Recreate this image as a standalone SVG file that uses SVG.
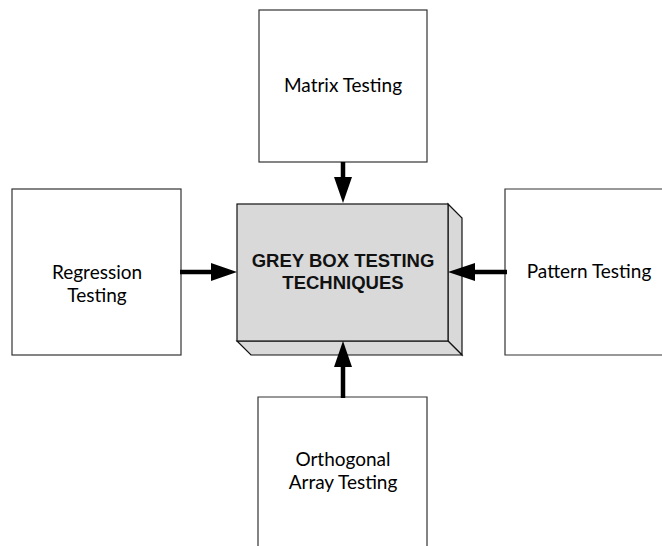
<svg xmlns="http://www.w3.org/2000/svg" width="662" height="546" viewBox="0 0 662 546">
<defs>
<style>
.box{fill:#ffffff;stroke:#333333;stroke-width:1.2}
.lbl{font-family:"Lato","DejaVu Sans",sans-serif;font-size:19px;fill:#000000;text-anchor:middle}
.ttl{font-family:"Liberation Sans",Arial,sans-serif;font-size:18.5px;font-weight:bold;fill:#111111;text-anchor:middle}
.face{fill:#d9d9d9;stroke:#111111;stroke-width:1.2;stroke-linejoin:miter}
.conn{stroke:#000000;stroke-width:4.5;fill:none}
.head{fill:#000000}
</style>
</defs>
<rect width="662" height="546" fill="#ffffff"/>
<g id="matrix">
<rect class="box" x="259" y="10" width="168" height="152"/>
<text class="lbl" x="343" y="92">Matrix Testing</text>
</g>
<g id="regression">
<rect class="box" x="12" y="189" width="169" height="166"/>
<text class="lbl" x="97" y="279">Regression</text>
<text class="lbl" x="97" y="302">Testing</text>
</g>
<g id="pattern">
<path class="box" d="M664,189 L505,189 L505,355 L664,355"/>
<text class="lbl" x="589" y="278">Pattern Testing</text>
</g>
<g id="orthogonal">
<path class="box" d="M258,548 L258,397 L427,397 L427,548"/>
<text class="lbl" x="343" y="466">Orthogonal</text>
<text class="lbl" x="343" y="489">Array Testing</text>
</g>
<g id="center">
<path class="face" d="M448,204 L462,218 L462,355 L448,341 Z"/>
<path class="face" d="M237,341 L448,341 L462,355 L251,355 Z"/>
<rect class="face" x="237" y="204" width="211" height="137"/>
<text class="ttl" x="343" y="267">GREY BOX TESTING</text>
<text class="ttl" x="343" y="289">TECHNIQUES</text>
</g>
<g id="connectors">
<line class="conn" x1="343" y1="162" x2="343" y2="180"/>
<polygon class="head" points="334,177 352,177 343,203"/>
<line class="conn" x1="180" y1="272" x2="214" y2="272"/>
<polygon class="head" points="211,263 211,281 237,272"/>
<line class="conn" x1="507" y1="272" x2="472" y2="272"/>
<polygon class="head" points="475,263 475,281 448,272"/>
<line class="conn" x1="343" y1="398" x2="343" y2="364"/>
<polygon class="head" points="334,367 352,367 343,341"/>
</g>
</svg>
